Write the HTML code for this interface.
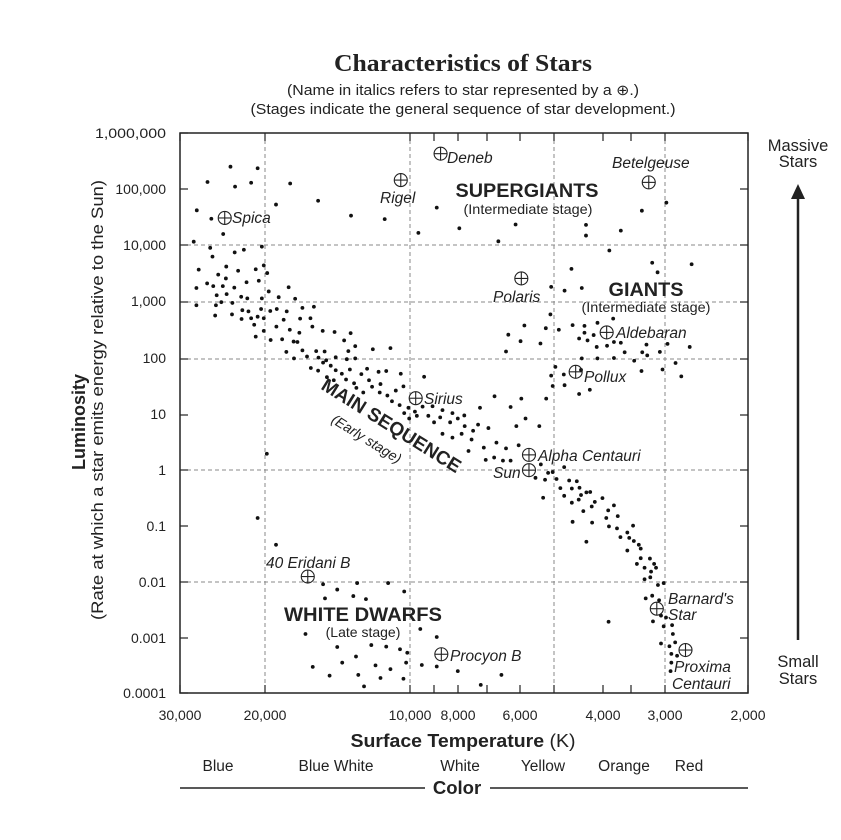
<!DOCTYPE html>
<html><head><meta charset="utf-8"><style>
html,body{margin:0;padding:0;background:#fff;}
svg{display:block;font-family:"Liberation Sans",sans-serif;}
</style></head><body>
<svg width="841" height="840" viewBox="0 0 841 840" xmlns="http://www.w3.org/2000/svg">
<text x="463" y="71" text-anchor="middle" font-family="Liberation Serif,serif" font-weight="bold" font-size="24" textLength="258" lengthAdjust="spacingAndGlyphs" fill="#222">Characteristics of Stars</text>
<text x="463" y="95" text-anchor="middle" font-size="14.5" textLength="352" lengthAdjust="spacingAndGlyphs" fill="#222">(Name in italics refers to star represented by a ⊕.)</text>
<text x="463" y="114" text-anchor="middle" font-size="14.5" textLength="425" lengthAdjust="spacingAndGlyphs" fill="#222">(Stages indicate the general sequence of star development.)</text>
<g stroke="#888" stroke-dasharray="4,3" stroke-width="1">
<line x1="265" y1="133" x2="265" y2="693"/><line x1="410" y1="133" x2="410" y2="693"/>
<line x1="554" y1="133" x2="554" y2="693"/><line x1="665" y1="133" x2="665" y2="693"/>
<line x1="180" y1="245" x2="748" y2="245"/><line x1="180" y1="302" x2="748" y2="302"/>
<line x1="180" y1="359" x2="748" y2="359"/><line x1="180" y1="470" x2="748" y2="470"/>
<line x1="180" y1="582" x2="748" y2="582"/>
</g>
<rect x="180" y="133" width="568" height="560" fill="none" stroke="#222" stroke-width="1.5"/>
<g stroke="#222" stroke-width="1.2" id="ticks"></g>
<g font-size="14" fill="#222" text-anchor="end">
<text x="166" y="138" textLength="71" lengthAdjust="spacingAndGlyphs">1,000,000</text><text x="166" y="194">100,000</text><text x="166" y="250">10,000</text>
<text x="166" y="306">1,000</text><text x="166" y="363">100</text><text x="166" y="419">10</text>
<text x="166" y="475">1</text><text x="166" y="531">0.1</text><text x="166" y="587">0.01</text>
<text x="166" y="643">0.001</text><text x="166" y="698">0.0001</text>
</g>
<g font-size="14" fill="#222" text-anchor="middle">
<text x="180" y="720">30,000</text><text x="265" y="720">20,000</text><text x="410" y="720">10,000</text>
<text x="458" y="720">8,000</text><text x="520" y="720">6,000</text><text x="603" y="720">4,000</text>
<text x="665" y="720">3,000</text><text x="748" y="720">2,000</text>
</g>
<text x="463" y="747" text-anchor="middle" font-size="18.5" textLength="225" lengthAdjust="spacingAndGlyphs" fill="#222"><tspan font-weight="bold">Surface Temperature</tspan> (K)</text>
<g font-size="15.5" fill="#222" text-anchor="middle">
<text x="218" y="771">Blue</text><text x="336" y="771">Blue White</text><text x="460" y="771">White</text>
<text x="543" y="771">Yellow</text><text x="624" y="771">Orange</text><text x="689" y="771">Red</text>
</g>
<line x1="180" y1="788" x2="425" y2="788" stroke="#222" stroke-width="1.5"/>
<line x1="490" y1="788" x2="748" y2="788" stroke="#222" stroke-width="1.5"/>
<text x="457" y="794" text-anchor="middle" font-size="18.5" font-weight="bold" fill="#222">Color</text>
<text transform="translate(85,422) rotate(-90)" text-anchor="middle" font-size="18" font-weight="bold" fill="#222">Luminosity</text>
<text transform="translate(103,400) rotate(-90)" text-anchor="middle" font-size="16.5" textLength="440" lengthAdjust="spacingAndGlyphs" fill="#222">(Rate at which a star emits energy relative to the Sun)</text>
<g font-size="16.5" fill="#222" text-anchor="middle">
<text x="798" y="151">Massive</text><text x="798" y="167">Stars</text>
<text x="798" y="667">Small</text><text x="798" y="684">Stars</text>
</g>
<line x1="798" y1="640" x2="798" y2="196" stroke="#222" stroke-width="2.5"/>
<polygon points="798,184 791,199 805,199" fill="#222"/>
<g id="dots" fill="#111"></g>
<g id="circ" fill="none" stroke="#222" stroke-width="1.1"></g>
<g font-size="15.5" font-style="italic" fill="#222">
<text x="447" y="163">Deneb</text><text x="380" y="203">Rigel</text><text x="612" y="168">Betelgeuse</text>
<text x="232" y="223">Spica</text><text x="493" y="302">Polaris</text><text x="616" y="338">Aldebaran</text>
<text x="584" y="382">Pollux</text><text x="424" y="404">Sirius</text><text x="538" y="461">Alpha Centauri</text>
<text x="493" y="478">Sun</text><text x="266" y="568">40 Eridani B</text><text x="450" y="661">Procyon B</text>
<text x="668" y="604">Barnard's</text><text x="668" y="620">Star</text>
<text x="674" y="672">Proxima</text><text x="672" y="689">Centauri</text>
</g>
<g fill="#222" text-anchor="middle">
<text x="527" y="197" font-size="19" font-weight="bold" textLength="143" lengthAdjust="spacingAndGlyphs">SUPERGIANTS</text>
<text x="528" y="214" font-size="14" textLength="129" lengthAdjust="spacingAndGlyphs">(Intermediate stage)</text>
<text x="646" y="296" font-size="19" font-weight="bold" textLength="75" lengthAdjust="spacingAndGlyphs">GIANTS</text>
<text x="646" y="312" font-size="14" textLength="129" lengthAdjust="spacingAndGlyphs">(Intermediate stage)</text>
<text x="363" y="621" font-size="19" font-weight="bold" textLength="158" lengthAdjust="spacingAndGlyphs">WHITE DWARFS</text>
<text x="363" y="637" font-size="14">(Late stage)</text>
<text transform="translate(388,431) rotate(32)" font-size="19" font-weight="bold">MAIN SEQUENCE</text>
<text transform="translate(364,443) rotate(32)" font-size="14" font-style="italic">(Early stage)</text>
</g>
</svg>
<script>
var NS="http://www.w3.org/2000/svg";
function P(z){return [170+z[0]/2.613,120+z[1]/2.613];}
var d=[[158,122],[229,126],[98,162],[170,174],[212,164],[314,166],[70,236],[108,258],[139,298],[277,221],[387,211],[473,250],[561,259],[697,229],[649,295],[756,283],[903,273],[858,317],[1087,274],[1087,302],[1178,289],[1233,237],[1297,216],[1148,341],[1260,373],[1274,398],[1363,377],[1049,389],[996,436],[1031,446],[1076,439],
[62,318],[105,334],[111,357],[240,331],[193,339],[169,346],[75,391],[69,439],[69,484],[147,383],[126,404],[178,394],[224,390],[245,380],[232,420],[254,400],[200,424],[97,427],[113,434],[138,434],[146,414],[168,438],[122,458],[148,455],[186,462],[202,466],[240,466],[258,448],[284,463],[310,437],[327,467],[120,484],[134,476],[163,478],[189,497],[205,500],[238,494],[262,499],[279,494],[305,500],[346,491],[376,488],[118,511],[162,508],[187,520],[212,518],[229,514],[245,518],[297,522],[340,519],[367,518],[220,535],[245,551],[278,540],[313,548],[338,556],[372,540],[224,566],[263,575],[293,573],[323,579],[333,580],[399,551],[430,554],[472,557],[455,576],[304,606],[346,602],[382,604],[404,605],[324,623],[358,618],[388,621],[408,628],[433,620],[466,604],[484,591],[484,623],[530,599],[576,596],[462,625],[368,648],[387,655],[400,634],[420,642],[433,654],[449,663],[470,652],[500,664],[515,650],[545,658],[565,656],[603,663],[664,671],[410,672],[428,680],[460,678],[481,688],[520,680],[550,690],[487,700],[505,712],[528,697],[548,712],[568,720],[590,707],[610,696],[580,735],[600,745],[623,752],[640,762],[660,749],[686,748],[712,758],[738,766],[769,772],[612,766],[625,780],[645,773],[675,773],[690,790],[706,777],[732,790],[752,780],[770,800],[792,812],[805,796],[832,805],[810,752],[712,820],[738,830],[762,820],[788,835],[820,856],[853,843],[878,858],[780,865],[825,888],[847,882],[870,890],[890,890],[848,722],[890,750],[918,728],[905,800],[929,780],[965,800],[911,850],[983,728],[996,668],[1000,695],[1007,645],[1029,665],[1031,693],[1069,716],[1097,705],[878,605],[884,561],[916,578],[926,537],[968,584],[982,544],[1016,548],[1052,536],[1083,538],[1083,556],[1069,571],[1091,576],[1107,562],[1117,530],[1158,519],[1115,593],[1142,590],[1160,580],[1178,582],[1188,607],[1213,629],[1234,607],[1245,587],[1247,615],[1280,606],[1300,585],[1321,635],[1358,593],[1336,670],[1287,652],[1232,656],[1076,623],[1074,653],[1117,623],[1160,622],[994,508],
[955,935],[969,900],[988,922],[980,940],[1000,920],[1010,938],[1030,907],[1020,962],[1043,942],[1063,944],[1050,963],[1070,961],[1088,973],[1074,980],[1098,972],[1030,982],[1050,1000],[1068,992],[1080,1022],[1102,1010],[1110,998],[1130,988],[1145,1020],[1160,1007],[1140,1040],[1170,1035],[1147,1062],[1168,1067],[1177,1090],[1195,1078],[1200,1092],[1210,1060],[1212,1100],[1225,1110],[1195,1125],[1230,1120],[1220,1160],[1230,1145],[1240,1170],[1257,1180],[1270,1170],[1255,1195],[1275,1215],[1265,1160],[1240,1200],[1290,1210],[1243,1250],[1260,1243],[1278,1255],[1283,1295],[1262,1310],[1296,1300],[1290,1323],[1312,1320],[1314,1343],[1283,1368],[1305,1375],[1320,1365],[1310,1395],[1325,1400],[1310,1418],[1308,1440],[975,987],[1052,1050],[1103,1052],[1088,1102],[1146,1311],[1254,1146],
[253,872],[229,1040],[277,1110],
[400,1213],[437,1227],[489,1210],[570,1210],[612,1232],[405,1250],[479,1244],[512,1252],[354,1343],[437,1377],[486,1402],[450,1418],[373,1429],[417,1452],[492,1450],[507,1480],[526,1372],[565,1376],[537,1425],[550,1458],[576,1435],[601,1383],[620,1392],[617,1418],[610,1460],[654,1330],[697,1351],[658,1424],[697,1428],[752,1440],[812,1476],[866,1450]];
var g=document.getElementById("dots");
d.forEach(function(z){var p=P(z),c=document.createElementNS(NS,"circle");c.setAttribute("cx",p[0]);c.setAttribute("cy",p[1]);c.setAttribute("r",1.9);g.appendChild(c);});
var cs=[[707,88],[603,157],[143,256],[1251,163],[918,414],[1141,555],[1060,658],[642,727],[938,875],[938,915],[360,1193],[709,1396],[1272,1277],[1347,1385]];
var gc=document.getElementById("circ");
cs.forEach(function(z){var p=P(z),r=6.5;var c=document.createElementNS(NS,"circle");c.setAttribute("cx",p[0]);c.setAttribute("cy",p[1]);c.setAttribute("r",r);gc.appendChild(c);
[[p[0]-r,p[1],p[0]+r,p[1]],[p[0],p[1]-r,p[0],p[1]+r]].forEach(function(l){var e=document.createElementNS(NS,"line");e.setAttribute("x1",l[0]);e.setAttribute("y1",l[1]);e.setAttribute("x2",l[2]);e.setAttribute("y2",l[3]);gc.appendChild(e);});});
var t=document.getElementById("ticks");
function L(a,b,c,e){var l=document.createElementNS(NS,"line");l.setAttribute("x1",a);l.setAttribute("y1",b);l.setAttribute("x2",c);l.setAttribute("y2",e);t.appendChild(l);}
[133,189,245,302,359,415,470,526,582,638,693].forEach(function(y){L(180,y,188,y);L(740,y,748,y);});
[180,265,410,434,458,487,520,554,603,631,665,748].forEach(function(x){L(x,133,x,141);L(x,685,x,693);});
</script>
</body></html>
